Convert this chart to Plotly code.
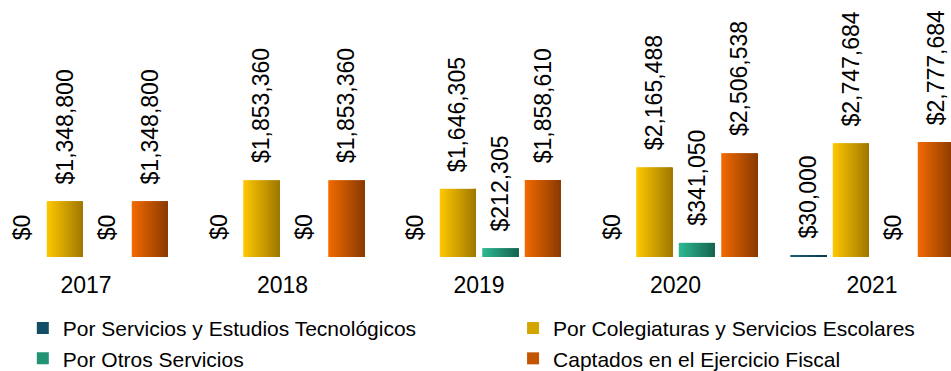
import plotly.graph_objects as go

# Ingresos propios por año y concepto
years = ["2017", "2018", "2019", "2020", "2021"]
series_names = [
    "Por Servicios y Estudios Tecnológicos",
    "Por Colegiaturas y Servicios Escolares",
    "Por Otros Servicios",
    "Captados en el Ejercicio Fiscal",
]
servicios_tecnologicos = [0, 0, 0, 0, 30000]
colegiaturas = [1348800, 1853360, 1646305, 2165488, 2747684]
otros_servicios = [0, 0, 212305, 341050, 0]
captados = [1348800, 1853360, 1858610, 2506538, 2777684]

series_values = [servicios_tecnologicos, colegiaturas, otros_servicios, captados]

# Horizontal gradient of each series: (left colour, right colour)
gradients = [
    ((24, 98, 122), (10, 56, 72)),
    ((255, 200, 0), (160, 120, 0)),
    ((46, 186, 147), (22, 100, 80)),
    ((242, 107, 0), (138, 58, 0)),
]
# legend column of each series (two-column legend)
legend_column = ["legend", "legend2", "legend", "legend2"]

SLOT = 0.2163      # width of one series slot within a year group
BAR = 0.1832       # drawn bar width
N_STRIPS = 36      # strips used to render the gradient

FONT = "Arial, Liberation Sans, sans-serif"


def mix(c0, c1, t):
    return "rgb({},{},{})".format(*[round(a + (b - a) * t) for a, b in zip(c0, c1)])


fig = go.Figure()

for s, (name, vals) in enumerate(zip(series_names, series_values)):
    c0, c1 = gradients[s]
    slot_center = (s - 1.5) * SLOT
    left = slot_center - BAR / 2
    strip = BAR / N_STRIPS
    for k in range(N_STRIPS):
        # each strip overlaps the next one so no seams show
        w = strip if k == N_STRIPS - 1 else strip * 2
        fig.add_trace(go.Bar(
            x=years, y=vals,
            offset=left + k * strip, width=w,
            marker=dict(color=mix(c0, c1, (k + 0.5) / N_STRIPS), line_width=0),
            showlegend=False, hoverinfo="skip",
        ))
    # legend entry
    fig.add_trace(go.Bar(
        x=[None], y=[None], name=name, legend=legend_column[s],
        marker=dict(color=mix(c0, c1, 0.45), line_width=0),
    ))
    # value labels above each bar
    for i, v in enumerate(vals):
        fig.add_annotation(
            x=i + slot_center, y=v, xref="x", yref="y",
            text="${:,.0f}".format(v), showarrow=False,
            textangle=-90, yanchor="bottom", xanchor="center",
            yshift=15, font=dict(family=FONT, size=23, color="#000000"),
        )

legend_style = dict(
    orientation="v", y=-0.198, xanchor="left", yanchor="top",
    font=dict(family=FONT, size=21, color="#000000"),
    tracegroupgap=0, bgcolor="rgba(0,0,0,0)",
)

fig.update_layout(
    width=951, height=371,
    margin=dict(l=0, r=0, t=0, b=114, autoexpand=False),
    paper_bgcolor="white", plot_bgcolor="white",
    barmode="overlay",
    font=dict(family=FONT, color="#000000"),
    xaxis=dict(
        type="category", range=[-0.4377, 4.402],
        showgrid=False, zeroline=False, showline=False, ticks="",
        tickfont=dict(family=FONT, size=23, color="#000000"),
        ticklabelstandoff=12,
    ),
    yaxis=dict(
        range=[0, 6.21e6], visible=False, showgrid=False, zeroline=False,
    ),
    legend=dict(x=0.024, **legend_style),
    legend2=dict(x=0.5395, **legend_style),
    showlegend=True,
)

fig.write_html("out.html")
